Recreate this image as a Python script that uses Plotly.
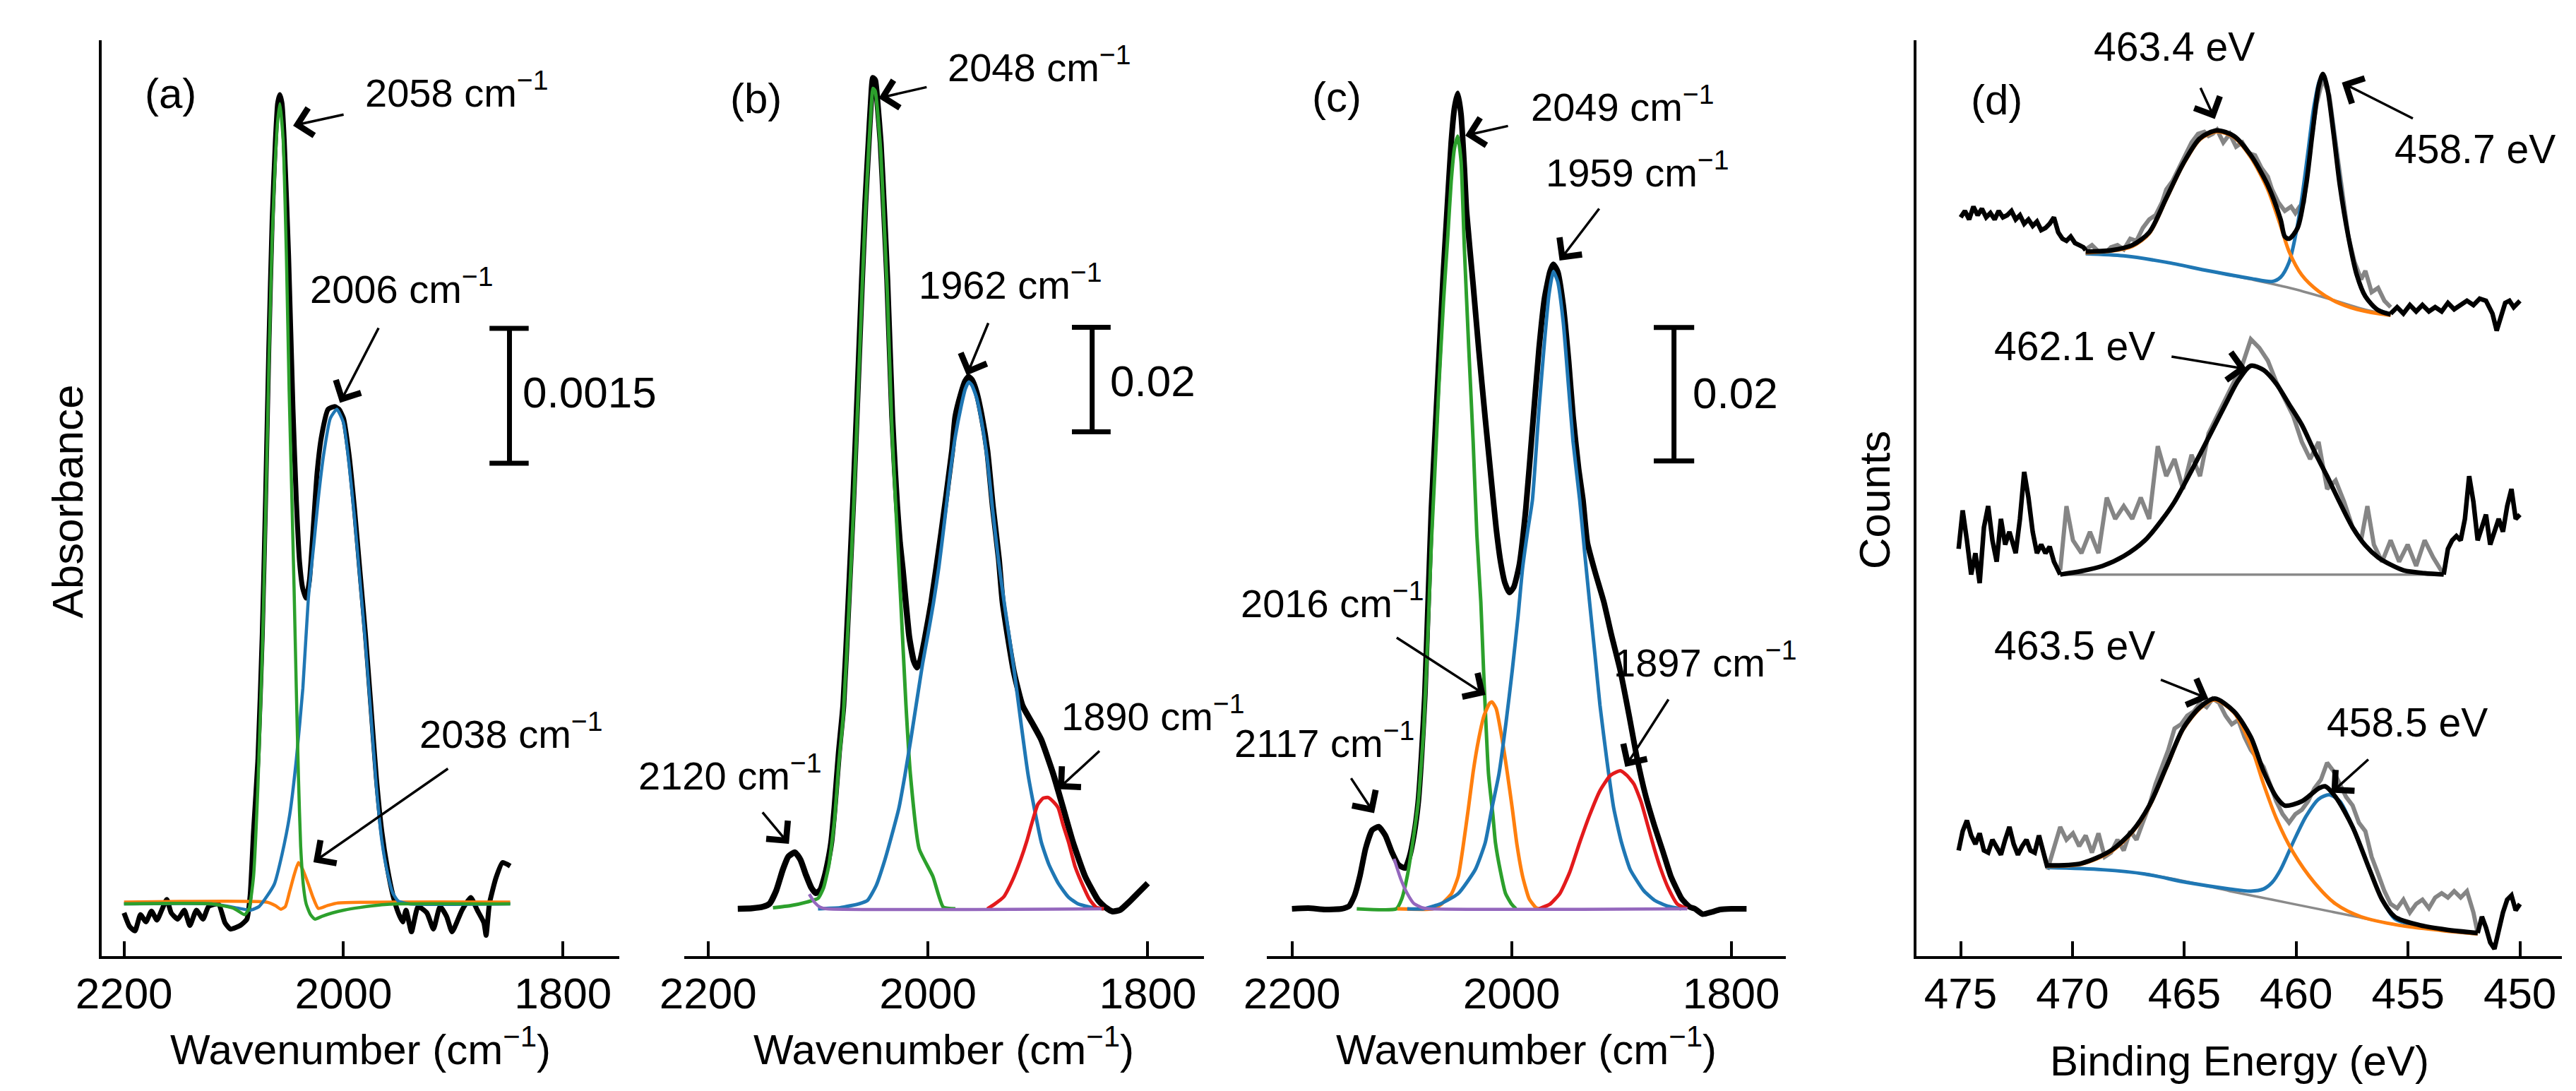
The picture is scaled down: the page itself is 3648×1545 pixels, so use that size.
import plotly.graph_objects as go

# ---------------- panel (a) : IR, absorbance ----------------
a_black_wn = [2200, 2195, 2190, 2185, 2180, 2175, 2170, 2165, 2161, 2157, 2151, 2145, 2140, 2134, 2128, 2123, 2114,
              2108, 2103, 2094, 2088, 2085, 2082, 2078, 2074, 2071, 2068, 2065, 2062, 2060, 2058, 2056, 2054, 2050,
              2046, 2043, 2040, 2037, 2034, 2031, 2028, 2024, 2020, 2014, 2008, 2004, 2000, 1995, 1990, 1985, 1980,
              1975, 1970, 1965, 1960, 1955, 1950, 1946, 1943, 1938, 1932, 1924, 1918, 1912, 1906, 1901, 1892, 1884,
              1878, 1872, 1870, 1867, 1861, 1855, 1848]
a_black_abs = [-0.0001, -0.00025, -0.0003, -0.00012, -0.0002, -0.00008, -0.00018, -0.00005, 0.00005, -0.0001,
               -0.00017, -0.00007, -0.00024, -0.00007, -0.00017, -0.00003, 0.0, -0.00021, -0.00028, -0.00024,
               -0.00017, 0.0001, 0.0008, 0.0016, 0.0030, 0.0045, 0.0062, 0.0076, 0.0085, 0.0089,
               0.0090, 0.0089, 0.0085, 0.0072, 0.0055, 0.0045, 0.0038, 0.0035, 0.0034, 0.0036,
               0.0041, 0.0048, 0.0052, 0.0055, 0.00553, 0.0055, 0.0054, 0.0050, 0.0044, 0.0037,
               0.0030, 0.0022, 0.0014, 0.0008, 0.0004, 0.0001, -0.0001, -0.0002, -0.00007, -0.00031,
               -0.00003, -0.0001, -0.00028, -0.00003, -0.00014, -0.00031, -0.00007, 0.00007, -0.00007, -0.00021,
               -0.00035, 0.0, 0.00029, 0.00046, 0.00042]
a_green_wn = [2200, 2120, 2100, 2090, 2086, 2082, 2078, 2074, 2071, 2068, 2065, 2062, 2060, 2058, 2055, 2052, 2049.5,
              2047, 2045, 2043, 2041, 2039, 2036.5, 2034, 2030, 2026, 2020, 2010, 2000, 1985, 1965, 1950, 1848]
a_green_abs = [0.0, 0.0, -0.00005, -0.00012, -0.00005, 0.0003, 0.0013, 0.0028, 0.0043, 0.0060, 0.0074, 0.0083, 0.0087,
               0.0089, 0.0085, 0.0072, 0.0057, 0.0045, 0.0035, 0.0024, 0.0014, 0.00064, 0.0002, 0.0, -0.00012,
               -0.00017, -0.00014, -0.0001, -0.00007, -0.00004, -0.00001, 0.0, 0.0]
a_blue_wn = [2200, 2120, 2095, 2085, 2077, 2070, 2063, 2056, 2049, 2043, 2037, 2032, 2027, 2023, 2018, 2012, 2006, 2000,
             1995, 1990, 1985, 1980, 1975, 1970, 1965, 1960, 1955, 1950, 1940, 1848]
a_blue_abs = [0.0, 0.0, -0.00005, -0.00007, -0.00003, 0.00008, 0.00022, 0.00055, 0.00099, 0.0016, 0.0024, 0.0034,
              0.0040, 0.0045, 0.0050, 0.0054, 0.0055, 0.00535, 0.0049, 0.0043, 0.0036, 0.0029, 0.0021, 0.0013,
              0.0007, 0.00035, 0.00012, 0.00003, 0.0, 0.0]
a_orange_wn = [2200, 2070, 2062, 2057, 2053, 2049, 2045, 2041, 2037, 2032, 2028, 2023, 2015, 2005, 1848]
a_orange_abs = [0.00002, 0.00002, -0.00002, -0.00006, -0.00003, 0.00014, 0.00032, 0.00046, 0.00038, 0.00022, 0.00008,
                -0.00005, -0.00002, 0.00001, 0.00002]

# ---------------- panel (b) ----------------
b_black_wn = [2173, 2160, 2150, 2144, 2138, 2132, 2127, 2121, 2116, 2111, 2106, 2102, 2098, 2094, 2091, 2088, 2085,
              2081, 2077, 2072, 2068, 2064, 2060, 2057, 2054, 2052, 2050, 2048, 2046, 2043, 2040, 2037, 2032.5, 2030,
              2028, 2025.5, 2023, 2017, 2013, 2010, 2007, 2003, 1997, 1988, 1978, 1975, 1970, 1966, 1963, 1960, 1956,
              1951, 1946, 1941, 1935.5, 1932, 1922, 1914, 1905, 1897, 1886, 1877, 1868, 1857, 1845, 1838, 1832, 1825,
              1817, 1808, 1800]
b_black_abs = [0.0, 0.0001, 0.0004, 0.0010, 0.0035, 0.0075, 0.0100, 0.0108, 0.0094, 0.0065, 0.0040, 0.0030, 0.0036,
               0.0062, 0.0090, 0.0127, 0.0193, 0.0300, 0.0389, 0.0600, 0.0782, 0.0990, 0.1204, 0.1350, 0.1466,
               0.1540, 0.1590, 0.1585, 0.1545, 0.1466, 0.1340, 0.1204, 0.0942, 0.0840, 0.0770, 0.0700, 0.0651,
               0.0520, 0.0475, 0.0462, 0.0475, 0.0515, 0.0586, 0.0717, 0.0877, 0.0942, 0.0985, 0.1010, 0.1018,
               0.1012, 0.0990, 0.0942, 0.0877, 0.0770, 0.0670, 0.0586, 0.0455, 0.0389, 0.0355, 0.0324, 0.0258,
               0.0193, 0.0127, 0.0062, 0.0016, 0.0002, -0.0005, -0.0002, 0.0013, 0.0032, 0.0049]
b_green_wn = [2141, 2125, 2110, 2100, 2095, 2090, 2085, 2081, 2077, 2072, 2068, 2064, 2060, 2057, 2054, 2052, 2050,
              2048, 2046, 2043, 2040, 2037, 2033, 2030, 2028, 2025, 2020, 2016, 2008, 1995.5, 1986, 1975]
b_green_abs = [0.0002, 0.0006, 0.0013, 0.0020, 0.0040, 0.0085, 0.0170, 0.0280, 0.0370, 0.0570, 0.0750, 0.0960, 0.1180,
               0.1330, 0.1450, 0.1520, 0.1570, 0.1565, 0.1530, 0.1450, 0.1320, 0.1180, 0.0930, 0.0800, 0.0720,
               0.0600, 0.0390, 0.0258, 0.0115, 0.0062, 0.0003, 0.0]
b_blue_wn = [2100, 2080, 2070, 2062, 2055, 2047, 2039, 2033, 2026.4, 2021, 2015.6, 2010, 2004.8, 2000, 1995, 1990, 1985,
             1980, 1975, 1970, 1966, 1963, 1960, 1956, 1951, 1946, 1941, 1936, 1930.7, 1926, 1921.5, 1915, 1909, 1903,
             1896.8, 1890, 1881.5, 1872, 1863, 1850, 1840]
b_blue_abs = [0.0, 0.0002, 0.0006, 0.0010, 0.0016, 0.0045, 0.0095, 0.0140, 0.0193, 0.0255, 0.0324, 0.0400, 0.0470,
              0.0525, 0.0585, 0.0655, 0.0740, 0.0830, 0.0905, 0.0960, 0.0995, 0.1008, 0.1002, 0.0980, 0.0930, 0.0860,
              0.0760, 0.0670, 0.0587, 0.0520, 0.0455, 0.0350, 0.0258, 0.0190, 0.0127, 0.0085, 0.0049, 0.0022, 0.0009,
              0.0002, 0.0]
b_red_wn = [1946, 1940, 1931, 1923, 1915.5, 1910, 1906, 1900, 1895, 1890.6, 1886, 1881.5, 1877, 1872, 1866, 1860, 1853,
            1847, 1840]
b_red_abs = [0.0, 0.0008, 0.0023, 0.0055, 0.0095, 0.0130, 0.0160, 0.0200, 0.0212, 0.0213, 0.0205, 0.0193, 0.0160,
             0.0127, 0.0080, 0.0049, 0.0018, 0.0003, 0.0]
b_purple_wn = [2108, 2103, 2098, 2092, 1842]
b_purple_abs = [0.0028, 0.0012, 0.0003, 0.0, 0.0]

# ---------------- panel (c) ----------------
c_black_wn = [2200, 2185, 2170, 2155, 2148, 2143, 2138, 2133, 2127, 2121, 2115, 2109, 2103, 2097, 2093, 2089, 2085,
              2082, 2079, 2076, 2073, 2070, 2066, 2062.5, 2059, 2055, 2052, 2049, 2046, 2043, 2041, 2035, 2030, 2024,
              2018, 2014, 2010, 2006, 2002, 1998, 1993, 1987, 1981, 1975, 1970, 1965, 1962, 1958, 1953, 1948, 1944,
              1939, 1935, 1931, 1924, 1916, 1909, 1901, 1893, 1886, 1878, 1870, 1862, 1855, 1845, 1838, 1833, 1826,
              1818, 1810, 1800, 1786]
c_black_abs = [0.0, 0.0001, -0.0001, 0.0, 0.0004, 0.0020, 0.0050, 0.0090, 0.0118, 0.0123, 0.0110, 0.0085, 0.0066,
               0.0061, 0.0078, 0.0110, 0.0160, 0.0230, 0.0320, 0.0460, 0.0600, 0.0700, 0.0830, 0.0943, 0.1040,
               0.1148, 0.1200, 0.1222, 0.1190, 0.1110, 0.1045, 0.0935, 0.0840, 0.0735, 0.0635, 0.0570, 0.0520,
               0.0488, 0.0474, 0.0482, 0.0515, 0.0600, 0.0720, 0.0840, 0.0915, 0.0955, 0.0966, 0.0955, 0.0905,
               0.0820, 0.0738, 0.0660, 0.0613, 0.0549, 0.0505, 0.0460, 0.0410, 0.0357, 0.0290, 0.0228, 0.0170,
               0.0125, 0.0085, 0.0049, 0.0015, 0.0003, 0.0, -0.0008, -0.0005, -0.0001, 0.0, 0.0]
c_green_wn = [2141, 2105, 2100, 2095, 2090, 2085, 2080, 2076, 2073, 2070, 2066, 2062, 2058, 2055, 2052, 2049, 2046,
              2043, 2039, 2035, 2031.6, 2028, 2025.5, 2021, 2017, 2014.7, 2010, 2005.5, 2000, 1996]
c_green_abs = [0.0, 0.0, 0.0015, 0.0049, 0.0100, 0.0160, 0.0270, 0.0420, 0.0550, 0.0650, 0.0790, 0.0910, 0.1010,
               0.1090, 0.1140, 0.1158, 0.1120, 0.0990, 0.0840, 0.0700, 0.0560, 0.0460, 0.0357, 0.0202, 0.0140,
               0.0099, 0.0055, 0.0023, 0.0007, 0.0]
c_orange_wn = [2104, 2072, 2064, 2054.6, 2048.5, 2044, 2039.3, 2035, 2030, 2025, 2020, 2017.8, 2014, 2008.6, 2004,
               1999.4, 1995, 1990, 1984, 1978, 1975]
c_orange_abs = [0.0, 0.0, 0.0007, 0.0023, 0.0049, 0.0095, 0.0151, 0.0205, 0.0254, 0.0290, 0.0308, 0.0310, 0.0300,
                0.0254, 0.0205, 0.0151, 0.0095, 0.0049, 0.0015, 0.0002, 0.0]
c_blue_wn = [2095, 2080, 2064, 2048.5, 2033, 2024, 2018, 2011.5, 2005, 1999.4, 1994, 1990, 1985, 1981, 1975, 1970,
             1966, 1962, 1958, 1953, 1948, 1944, 1938, 1933.5, 1929, 1924, 1919.5, 1913, 1907, 1900, 1892, 1880, 1870,
             1858, 1845.6]
c_blue_abs = [0.0, 0.0, 0.0008, 0.0023, 0.0059, 0.0099, 0.0150, 0.0202, 0.0280, 0.0357, 0.0440, 0.0510, 0.0570,
              0.0613, 0.0750, 0.0850, 0.0920, 0.0955, 0.0940, 0.0880, 0.0780, 0.0700, 0.0613, 0.0535, 0.0460, 0.0380,
              0.0305, 0.0220, 0.0151, 0.0100, 0.0059, 0.0028, 0.0013, 0.0004, 0.0]
c_red_wn = [1975, 1965, 1956, 1947, 1938, 1929, 1919.5, 1910, 1901, 1895, 1888.6, 1882, 1876, 1870, 1864, 1857, 1849,
            1840]
c_red_abs = [0.0, 0.0007, 0.0023, 0.0055, 0.0099, 0.0140, 0.0177, 0.0200, 0.0207, 0.0200, 0.0187, 0.0160, 0.0125,
             0.0090, 0.0059, 0.0030, 0.0007, 0.0]
c_purple_wn = [2107, 2101, 2095, 2089, 2082, 2075, 1840]
c_purple_abs = [0.0075, 0.0045, 0.0023, 0.0008, 0.0002, 0.0, 0.0]

# ---------------- panel (d) : XPS, counts (arbitrary, stacked) ----------------
d_top_left_ev = [475.00, 474.81, 474.62, 474.43, 474.24, 474.05, 473.86, 473.67, 473.48, 473.30, 473.11, 472.92,
                 472.73, 472.54, 472.35, 472.16, 471.97, 471.78, 471.59, 471.40, 471.21, 471.02, 470.83, 470.64,
                 470.45, 470.27, 470.08, 469.89, 469.70, 469.51, 469.41]
d_top_left_cts = [1727, 1742, 1722, 1752, 1732, 1747, 1727, 1737, 1722, 1742, 1727, 1732, 1742, 1722, 1732, 1712,
                  1722, 1707, 1717, 1697, 1702, 1712, 1727, 1692, 1677, 1672, 1682, 1667, 1662, 1657, 1650]
d_top_raw_ev = [469.41, 469.13, 468.84, 468.56, 468.28, 467.99, 467.71, 467.42, 467.14, 466.86, 466.57, 466.29,
                466.00, 465.81, 465.53, 465.25, 464.96, 464.68, 464.39, 464.11, 463.92, 463.73, 463.54, 463.26,
                462.97, 462.69, 462.41, 462.12, 461.84, 461.55, 461.27, 461.08, 460.80, 460.51, 460.23, 460.04,
                459.85, 459.66, 459.38, 459.09, 458.81, 458.52, 458.24, 457.95, 457.67, 457.39, 457.10, 456.91,
                456.63, 456.34, 456.06, 455.78]
d_top_raw_cts = [1652, 1662, 1647, 1642, 1657, 1662, 1652, 1677, 1672, 1702, 1722, 1732, 1762, 1792, 1812, 1842,
                 1872, 1902, 1922, 1927, 1917, 1922, 1932, 1902, 1922, 1892, 1902, 1877, 1872, 1842, 1822, 1792,
                 1762, 1742, 1752, 1737, 1752, 1762, 1892, 1992, 2052, 2012, 1902, 1782, 1682, 1622, 1582, 1602,
                 1552, 1562, 1532, 1517]
d_top_fit_ev = [469.41, 468.28, 467.33, 466.57, 465.81, 465.06, 464.30, 463.54, 462.78, 462.03, 461.27, 460.70,
                460.51, 460.32, 459.94, 459.56, 459.28, 459.00, 458.81, 458.62, 458.33, 458.05, 457.67, 457.29,
                456.91, 456.34, 455.78]
d_top_fit_cts = [1647, 1650, 1662, 1692, 1772, 1852, 1912, 1930, 1917, 1872, 1802, 1722, 1682, 1677, 1702, 1802,
                 1922, 2032, 2062, 2032, 1922, 1802, 1682, 1592, 1542, 1510, 1500]
d_top_blue_ev = [469.41, 467.71, 465.81, 463.92, 462.03, 461.08, 460.70, 460.32, 460.04, 459.75, 459.47, 459.19,
                 458.90, 458.71, 458.43, 458.14, 457.86, 457.48, 457.10, 456.53, 455.78]
d_top_blue_cts = [1642, 1637, 1622, 1602, 1584, 1577, 1587, 1622, 1682, 1772, 1882, 1992, 2052, 2047, 1972, 1852,
                  1742, 1632, 1562, 1517, 1500]
d_top_orange_ev = [469.41, 468.28, 467.33, 466.57, 465.81, 465.06, 464.30, 463.54, 462.78, 462.03, 461.27, 460.70,
                   460.32, 459.75, 459.00, 458.24, 457.29, 456.34, 455.78]
d_top_orange_cts = [1644, 1648, 1659, 1689, 1769, 1849, 1909, 1927, 1914, 1867, 1792, 1707, 1647, 1592, 1554, 1530,
                    1512, 1502, 1498]
d_top_base_ev = [469.41, 467.71, 465.81, 463.92, 462.03, 460.13, 458.24, 457.10, 455.78]
d_top_base_cts = [1642, 1637, 1622, 1602, 1582, 1560, 1532, 1514, 1498]
d_top_right_ev = [455.78, 455.49, 455.21, 454.92, 454.64, 454.36, 454.07, 453.79, 453.50, 453.22, 452.94, 452.65,
                  452.37, 452.08, 451.80, 451.52, 451.23, 451.04, 450.85, 450.66, 450.47, 450.28, 450.00]
d_top_right_cts = [1502, 1517, 1502, 1522, 1507, 1522, 1507, 1517, 1507, 1527, 1512, 1522, 1532, 1522, 1537, 1532,
                   1502, 1462, 1492, 1527, 1532, 1517, 1532]

d_mid_left_ev = [475.09, 474.91, 474.72, 474.53, 474.34, 474.15, 473.96, 473.77, 473.58, 473.39, 473.20, 473.01,
                 472.82, 472.54, 472.35, 472.16, 471.97, 471.78, 471.59, 471.40, 471.21, 471.02, 470.83, 470.55]
d_mid_left_cts = [952, 1042, 972, 892, 942, 872, 1002, 1052, 972, 922, 1022, 962, 992, 942, 1022, 1132, 1072, 992,
                  942, 962, 942, 957, 922, 892]
d_mid_raw_ev = [470.55, 470.27, 469.98, 469.60, 469.22, 468.84, 468.47, 468.09, 467.71, 467.33, 466.95, 466.57,
                466.19, 465.81, 465.44, 465.06, 464.68, 464.30, 463.92, 463.54, 463.16, 462.78, 462.41, 462.03,
                461.65, 461.27, 460.89, 460.51, 460.13, 459.75, 459.38, 459.00, 458.62, 458.24, 457.86, 457.48,
                457.10, 456.82, 456.53, 456.16, 455.78, 455.40, 455.02, 454.64, 454.26, 453.88, 453.41]
d_mid_raw_cts = [902, 1052, 972, 942, 992, 942, 1072, 1022, 1052, 1022, 1072, 1022, 1192, 1122, 1162, 1092, 1172,
                 1122, 1222, 1262, 1302, 1342, 1382, 1442, 1422, 1392, 1342, 1302, 1262, 1202, 1162, 1202, 1092,
                 1112, 1062, 1002, 972, 1052, 962, 922, 972, 922, 962, 912, 972, 932, 892]
d_mid_fit_ev = [470.55, 469.60, 468.66, 467.71, 466.76, 466.00, 465.44, 464.68, 463.92, 463.16, 462.60, 462.03,
                461.46, 460.89, 460.32, 459.75, 459.19, 458.62, 458.05, 457.48, 456.91, 456.34, 455.78, 455.21,
                454.26, 453.41]
d_mid_fit_cts = [892, 900, 912, 935, 972, 1020, 1062, 1135, 1212, 1290, 1345, 1380, 1370, 1338, 1290, 1242, 1180,
                 1122, 1060, 1002, 960, 932, 915, 902, 895, 892]
d_mid_base_ev = [470.55, 453.41]
d_mid_base_cts = [892, 892]
d_mid_right_ev = [453.41, 453.22, 453.03, 452.84, 452.65, 452.46, 452.27, 452.08, 451.89, 451.70, 451.52, 451.33,
                  451.14, 450.95, 450.76, 450.57, 450.38, 450.19, 450.00]
d_mid_right_cts = [892, 952, 972, 982, 972, 1022, 1122, 1062, 972, 1002, 1032, 962, 992, 1022, 992, 1052, 1092,
                   1022, 1032]

d_bot_left_ev = [475.09, 474.91, 474.72, 474.53, 474.34, 474.15, 473.96, 473.77, 473.58, 473.39, 473.20, 473.01,
                 472.82, 472.63, 472.44, 472.25, 472.06, 471.88, 471.69, 471.50, 471.31, 471.12]
d_bot_left_cts = [247, 292, 317, 282, 262, 287, 247, 242, 272, 252, 237, 272, 302, 262, 237, 257, 272, 247, 242, 282,
                  242, 207]
d_bot_raw_ev = [471.12, 470.83, 470.55, 470.27, 469.98, 469.70, 469.41, 469.13, 468.84, 468.56, 468.28, 467.99,
                467.71, 467.42, 467.14, 466.86, 466.57, 466.29, 466.00, 465.72, 465.44, 465.15, 464.87, 464.58,
                464.30, 464.01, 463.73, 463.45, 463.16, 462.88, 462.59, 462.31, 462.03, 461.74, 461.46, 461.17,
                460.89, 460.61, 460.32, 460.04, 459.75, 459.47, 459.19, 458.90, 458.62, 458.33, 458.05, 457.77,
                457.48, 457.20, 456.91, 456.63, 456.34, 456.06, 455.78, 455.49, 455.21, 454.92, 454.64, 454.36,
                454.07, 453.79, 453.50, 453.22, 452.94, 452.65, 452.37, 452.08, 451.89]
d_bot_raw_cts = [202, 257, 302, 272, 287, 257, 282, 242, 287, 232, 242, 272, 247, 292, 272, 312, 352, 402, 442, 482,
                 532, 542, 562, 572, 592, 582, 602, 592, 562, 542, 552, 512, 482, 462, 442, 402, 362, 332, 312, 332,
                 342, 362, 392, 412, 452, 432, 402, 372, 352, 312, 292, 232, 192, 152, 122, 112, 132, 102, 122, 132,
                 112, 137, 147, 137, 152, 137, 152, 102, 54]
d_bot_fit_ev = [471.12, 469.60, 468.28, 467.33, 466.57, 465.81, 465.06, 464.30, 463.64, 462.78, 462.03, 461.46,
                460.89, 460.51, 459.75, 459.00, 458.71, 458.24, 457.48, 456.72, 456.16, 455.59, 454.45, 453.31, 451.89]
d_bot_fit_cts = [212, 217, 247, 292, 352, 442, 532, 582, 602, 572, 512, 432, 372, 352, 362, 392, 397, 372, 302, 202,
                 132, 92, 72, 62, 54]
d_bot_blue_ev = [471.12, 468.66, 466.76, 464.87, 462.97, 462.03, 461.46, 461.08, 460.70, 460.13, 459.56, 459.00,
                 458.52, 458.05, 457.48, 456.72, 456.16, 455.59, 454.45, 453.31, 451.89]
d_bot_blue_cts = [207, 202, 192, 172, 157, 152, 157, 172, 202, 267, 327, 367, 377, 362, 302, 202, 132, 87, 69, 60, 52]
d_bot_orange_ev = [471.12, 469.60, 468.28, 467.33, 466.57, 465.81, 465.06, 464.30, 463.64, 462.78, 462.03, 461.46,
                   460.89, 460.13, 459.19, 458.24, 457.10, 455.40, 453.50, 451.89]
d_bot_orange_cts = [210, 215, 244, 289, 349, 439, 529, 579, 599, 569, 492, 402, 322, 242, 172, 122, 92, 72, 60, 52]
d_bot_base_ev = [471.12, 468.66, 466.76, 464.87, 462.97, 461.08, 459.19, 457.29, 455.40, 453.50, 451.89]
d_bot_base_cts = [207, 202, 192, 174, 152, 132, 112, 92, 72, 60, 52]
d_bot_right_ev = [451.89, 451.70, 451.52, 451.33, 451.14, 450.95, 450.76, 450.57, 450.38, 450.19, 450.00]
d_bot_right_cts = [54, 92, 67, 32, 17, 62, 102, 132, 142, 107, 122]

ir_ticks = [2200, 2000, 1800]
xps_ticks = [475, 470, 465, 460, 455, 450]

FONT = "Liberation Sans, Arial, sans-serif"
GREEN = "#2ca02c"
BLUE = "#1f77b4"
ORANGE = "#ff7f0e"
RED = "#e31a1c"
PURPLE = "#9467bd"
GRAY = "#858585"

fig = go.Figure()


def add_line(ax, x, y, color, width, shape="spline", smooth=0.5):
    fig.add_trace(go.Scatter(x=x, y=y, mode="lines", xaxis="x" + ax, yaxis="y" + ax,
                             line=dict(color=color, width=width, shape=shape, smoothing=smooth),
                             showlegend=False, hoverinfo="skip"))


# (a)
add_line("", a_black_wn, a_black_abs, "black", 7)
add_line("", a_orange_wn, a_orange_abs, ORANGE, 4.5)
add_line("", a_blue_wn, a_blue_abs, BLUE, 4.5)
add_line("", a_green_wn, a_green_abs, GREEN, 4.5)
# (b)
add_line("2", b_black_wn, b_black_abs, "black", 8.5)
add_line("2", b_green_wn, b_green_abs, GREEN, 5)
add_line("2", b_blue_wn, b_blue_abs, BLUE, 5)
add_line("2", b_red_wn, b_red_abs, RED, 5)
add_line("2", b_purple_wn, b_purple_abs, PURPLE, 4.5)
# (c)
add_line("3", c_black_wn, c_black_abs, "black", 8)
add_line("3", c_green_wn, c_green_abs, GREEN, 5)
add_line("3", c_orange_wn, c_orange_abs, ORANGE, 5)
add_line("3", c_blue_wn, c_blue_abs, BLUE, 5)
add_line("3", c_red_wn, c_red_abs, RED, 5)
add_line("3", c_purple_wn, c_purple_abs, PURPLE, 4.5)
# (d)
for raw_x, raw_y in [(d_top_raw_ev, d_top_raw_cts), (d_mid_raw_ev, d_mid_raw_cts), (d_bot_raw_ev, d_bot_raw_cts)]:
    add_line("4", raw_x, raw_y, GRAY, 6, shape="linear")
for bx, by in [(d_top_base_ev, d_top_base_cts), (d_mid_base_ev, d_mid_base_cts), (d_bot_base_ev, d_bot_base_cts)]:
    add_line("4", bx, by, "#8a8a8a", 3.5, smooth=0.8)
add_line("4", d_top_blue_ev, d_top_blue_cts, BLUE, 5, smooth=0.8)
add_line("4", d_top_orange_ev, d_top_orange_cts, ORANGE, 5, smooth=0.8)
add_line("4", d_bot_blue_ev, d_bot_blue_cts, BLUE, 5, smooth=0.8)
add_line("4", d_bot_orange_ev, d_bot_orange_cts, ORANGE, 5, smooth=0.8)
for fx, fy in [(d_top_fit_ev, d_top_fit_cts), (d_mid_fit_ev, d_mid_fit_cts), (d_bot_fit_ev, d_bot_fit_cts)]:
    add_line("4", fx, fy, "black", 6.5, smooth=0.8)
for nx, ny in [(d_top_left_ev, d_top_left_cts), (d_top_right_ev, d_top_right_cts),
               (d_mid_left_ev, d_mid_left_cts), (d_mid_right_ev, d_mid_right_cts),
               (d_bot_left_ev, d_bot_left_cts), (d_bot_right_ev, d_bot_right_cts)]:
    add_line("4", nx, ny, "black", 6.5, shape="linear")

y_dom = [0.1288, 0.9683]


def xcfg(dom, rng, ticks, anchor):
    return dict(domain=dom, range=rng, anchor=anchor, tickvals=ticks, ticks="inside", ticklen=21, tickwidth=4,
                tickcolor="black", showline=True, linecolor="black", linewidth=4, showgrid=False, zeroline=False,
                tickfont=dict(family=FONT, size=62, color="black"), ticklabelstandoff=-4)


def ycfg(rng, anchor, line):
    return dict(domain=y_dom, range=rng, anchor=anchor, showline=line, linecolor="black", linewidth=4,
                showticklabels=False, ticks="", showgrid=False, zeroline=False)


fig.update_layout(
    width=3648, height=1545,
    margin=dict(l=0, r=0, t=0, b=0),
    paper_bgcolor="white", plot_bgcolor="white",
    font=dict(family=FONT, color="black"),
    xaxis=xcfg([0.0274, 0.2305], [2220.4, 1748.4], ir_ticks, "y"),
    yaxis=ycfg([-0.000581, 0.009604], "x", True),
    xaxis2=xcfg([0.2558, 0.4597], [2221.9, 1748.9], ir_ticks, "y2"),
    yaxis2=ycfg([-0.009054, 0.16622], "x2", False),
    xaxis3=xcfg([0.4844, 0.6880], [2222.8, 1750.0], ir_ticks, "y3"),
    yaxis3=ycfg([-0.00709, 0.13016], "x3", False),
    xaxis4=xcfg([0.7390, 0.9923], [476.99, 448.12], xps_ticks, "y4"),
    yaxis4=ycfg([0, 2141], "x4", True),
)


def label(ax, x, y, text, anchor="left", size=56):
    fig.add_annotation(xref="x" + ax, yref="y" + ax, x=x, y=y, text=text, showarrow=False,
                       xanchor=anchor, yanchor="middle", font=dict(family=FONT, size=size, color="black"))


def arrow(ax, x0, y0, x1, y1):
    fig.add_annotation(xref="x" + ax, yref="y" + ax, axref="x" + ax, ayref="y" + ax,
                       x=x1, y=y1, ax=x0, ay=y0, text="", showarrow=True,
                       arrowhead=4, arrowsize=2.2, arrowwidth=3.5, arrowcolor="black")


def scale_bar(ax, x, y0, y1, x_left, x_right, text, tx, ty):
    for (xa, ya, xb, yb) in [(x, y0, x, y1), (x_left, y0, x_right, y0), (x_left, y1, x_right, y1)]:
        fig.add_shape(type="line", xref="x" + ax, yref="y" + ax, x0=xa, y0=ya, x1=xb, y1=yb,
                      line=dict(color="black", width=7))
    label(ax, tx, ty, text, size=62)


CM = " cm<sup>\u22121</sup>"

label("", 1981.8, 0.00905, "2058" + CM)
arrow("", 1998.9, 0.00878, 2045.9, 0.008654)
label("", 2031.8, 0.00687, "2006" + CM)
arrow("", 1967.5, 0.006416, 2003.2, 0.005572)
label("", 1932, 0.00192, "2038" + CM)
arrow("", 1903.8, 0.001512, 2027.4, 0.000463)
scale_bar("", 1848.7, 0.0049, 0.0064, 1866.9, 1831.2, "0.0015", 1838.2, 0.005693)

label("2", 1983.5, 0.16149, "2048" + CM)
arrow("2", 2000.2, 0.1573, 2044.8, 0.15514)
label("2", 2009.5, 0.11987, "1962" + CM)
arrow("2", 1944.7, 0.1123, 1964.7, 0.1021)
label("2", 2096, 0.02595, "2120" + CM, anchor="right")
arrow("2", 2151.3, 0.01865, 2126.5, 0.01243)
label("2", 1879.9, 0.0373, "1890" + CM)
arrow("2", 1843, 0.0304, 1881.8, 0.02289)
scale_bar("2", 1850.6, 0.0913, 0.1113, 1869, 1833.8, "0.02", 1835.3, 0.10108)

label("3", 1983.9, 0.12053, "2049" + CM)
arrow("3", 2002.3, 0.11735, 2042.2, 0.11587)
label("3", 1970, 0.11069, "1959" + CM)
arrow("3", 1919.5, 0.10508, 1956.3, 0.09714)
label("3", 2079, 0.04614, "2016" + CM, anchor="right")
arrow("3", 2105.6, 0.04074, 2023.8, 0.03206)
label("3", 2087.2, 0.02529, "2117" + CM, anchor="right")
arrow("3", 2146.8, 0.01972, 2125.2, 0.01434)
label("3", 1908.7, 0.03725, "1897" + CM)
arrow("3", 1856.5, 0.03153, 1896.5, 0.02127)
scale_bar("3", 1852.1, 0.06712, 0.08712, 1870.5, 1833.7, "0.02", 1836.6, 0.07735)

label("4", 469.13, 2126, "463.4 eV", size=57)
arrow("4", 464.30, 2032, 463.64, 1957)
label("4", 455.68, 1887, "458.7 eV", size=57)
arrow("4", 454.74, 1957, 457.96, 2042)
label("4", 473.58, 1427, "462.1 eV", size=57)
arrow("4", 465.62, 1402, 462.21, 1372)
label("4", 473.58, 727, "463.5 eV", size=57)
arrow("4", 466.10, 647, 463.93, 602)
label("4", 458.71, 547, "458.5 eV", size=57)
arrow("4", 456.73, 462, 458.43, 382)


def paper_text(x, y, text, size=60, angle=0):
    fig.add_annotation(xref="paper", yref="paper", x=x, y=y, text=text, showarrow=False, textangle=angle,
                       xanchor="center", yanchor="middle", font=dict(family=FONT, size=size, color="black"))


paper_text(0.0544, 0.9191, "(a)")
paper_text(0.2839, 0.9152, "(b)")
paper_text(0.5119, 0.9159, "(c)")
paper_text(0.7707, 0.9139, "(d)")
paper_text(0.01398, 0.5456, "Absorbance", size=62, angle=-90)
paper_text(0.72259, 0.5469, "Counts", size=62, angle=-90)
paper_text(0.1290, 0.046, "Wavenumber (cm<sup>\u22121</sup>)", size=60)
paper_text(0.3577, 0.046, "Wavenumber (cm<sup>\u22121</sup>)", size=60)
paper_text(0.5862, 0.046, "Wavenumber (cm<sup>\u22121</sup>)", size=60)
paper_text(0.8657, 0.033, "Binding Energy (eV)", size=60)

fig.write_html("out.html")
